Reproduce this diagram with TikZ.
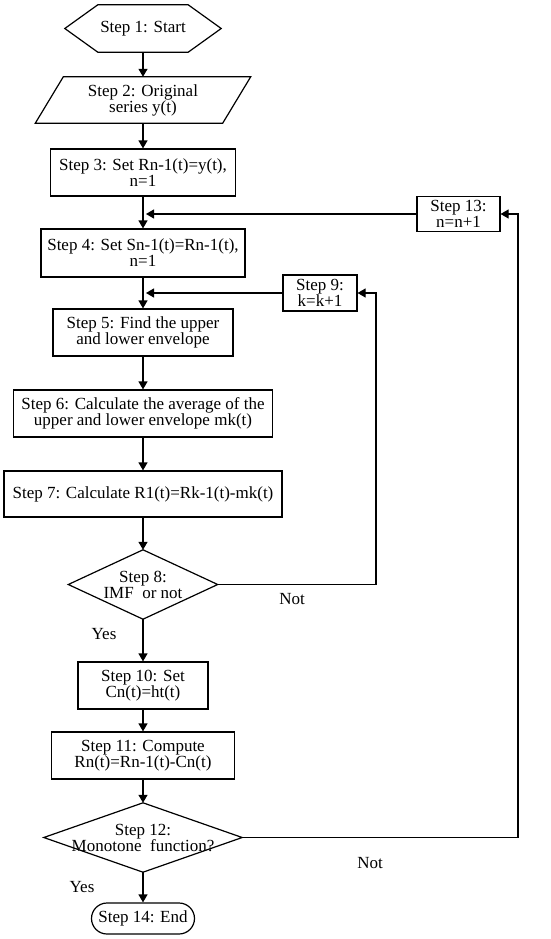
\documentclass[tikz,border=0pt]{standalone}
\usepackage{fontspec}
\setmainfont{Liberation Serif}
\usetikzlibrary{arrows.meta}
\begin{document}
\begin{tikzpicture}[x=1pt,y=-1pt,
  txt/.style={font=\fontsize{17}{16}\selectfont, align=center, inner sep=0pt},
  stepbox/.style={txt, draw, line width=1.2pt},
  ghost/.style={txt},
  outl/.style={line width=1.2pt, line join=miter},
  arr/.style={line width=1.2pt, -{Triangle[length=8pt,width=9pt]}},
  lbl/.style={font=\fontsize{17}{16}\selectfont, inner sep=0pt}]
\useasboundingbox (0,0) rectangle (550,939);
% nodes
\node[ghost, minimum width=156pt, minimum height=47pt] (s1) at (143,28.5) {Step 1: Start};
\node[ghost, minimum width=215pt, minimum height=46pt] (s2) at (143,100) {Step 2: Original\\series y(t)};
\node[stepbox, minimum width=185pt, minimum height=47pt] (s3) at (143,172.5) {Step 3: Set Rn-1(t)=y(t),\\n=1};
\node[stepbox, minimum width=83pt, minimum height=35pt] (s13) at (458.5,214) {Step 13:\\n=n+1};
\node[stepbox, minimum width=204pt, minimum height=48pt] (s4) at (143,253) {Step 4: Set Sn-1(t)=Rn-1(t),\\n=1};
\node[stepbox, minimum width=74pt, minimum height=36pt] (s9) at (320,293) {Step 9:\\k=k+1};
\node[stepbox, minimum width=180pt, minimum height=47pt] (s5) at (143,332.5) {Step 5: Find the upper\\and lower envelope};
\node[stepbox, minimum width=259pt, minimum height=47pt] (s6) at (143,413.5) {Step 6: Calculate the average of the\\upper and lower envelope mk(t)};
\node[stepbox, minimum width=278pt, minimum height=46pt] (s7) at (143,494) {Step 7: Calculate R1(t)=Rk-1(t)-mk(t)};
\node[ghost, minimum width=149pt, minimum height=69pt] (s8) at (143,584.5) {Step 8:\\IMF\ \ or not};
\node[stepbox, minimum width=130pt, minimum height=47pt] (s10) at (143,685.5) {Step 10: Set\\Cn(t)=ht(t)};
\node[stepbox, minimum width=183pt, minimum height=47pt] (s11) at (143,755.5) {Step 11: Compute\\Rn(t)=Rn-1(t)-Cn(t)};
\node[ghost, minimum width=198pt, minimum height=69pt] (s12) at (143,837.5) {Step 12:\\Monotone\ \ function?};
\node[stepbox, minimum width=103pt, minimum height=31pt, rounded corners=15.5pt] (s14) at (143,918.5) {Step 14: End};
% outlines of special shapes
\draw[outl] (s1.west) -- ([xshift=33pt]s1.north west) -- ([xshift=-33pt]s1.north east) -- (s1.east) -- ([xshift=-33pt]s1.south east) -- ([xshift=33pt]s1.south west) -- cycle;
\draw[outl] (s2.south west) -- ([xshift=28pt]s2.north west) -- (s2.north east) -- ([xshift=-28pt]s2.south east) -- cycle;
\draw[outl] (s8.north) -- (s8.east) -- (s8.south) -- (s8.west) -- cycle;
\draw[outl] (s12.north) -- (s12.east) -- (s12.south) -- (s12.west) -- cycle;
% labels
\node[lbl] (n1) at (292,599) {Not};
\node[lbl] (y1) at (104,634) {Yes};
\node[lbl] (n2) at (370,863) {Not};
\node[lbl] (y2) at (82,887) {Yes};
% coordinates
\coordinate (j4) at (146,214);
\coordinate (j5) at (146,293);
\coordinate (c9) at (376,293);
\coordinate (c13) at (518,214);
% main flow
\draw[arr] (s1.south) -- (s2.north);
\draw[arr] (s2.south) -- (s3.north);
\draw[arr] (s3.south) -- (s4.north);
\draw[arr] (s4.south) -- (s5.north);
\draw[arr] (s5.south) -- (s6.north);
\draw[arr] (s6.south) -- (s7.north);
\draw[arr] (s7.south) -- (s8.north);
\draw[arr] (s8.south) -- (s10.north);
\draw[arr] (s10.south) -- (s11.north);
\draw[arr] (s11.south) -- (s12.north);
\draw[arr] (s12.south) -- (s14.north);
% loops
\draw[arr] (s8.east) -| (c9) -- (s9.east);
\draw[arr] (s9.west) -- (j5);
\draw[arr] (s12.east) -| (c13) -- (s13.east);
\draw[arr] (s13.west) -- (j4);
\end{tikzpicture}
\end{document}
